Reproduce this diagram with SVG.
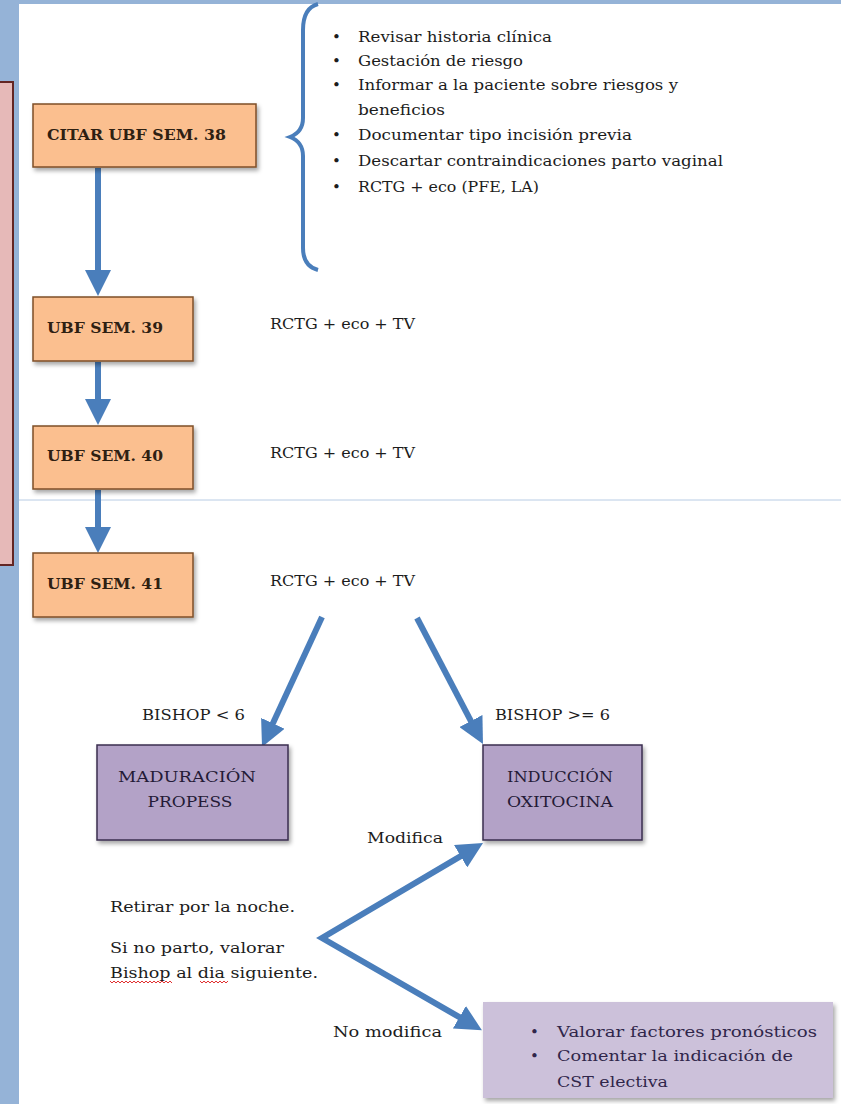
<svg xmlns="http://www.w3.org/2000/svg" width="841" height="1104" viewBox="0 0 841 1104">
<style>
.t{font-family:"DejaVu Serif","Liberation Serif",serif;font-size:15px;fill:#1c1c1c}
.b{font-family:"DejaVu Serif","Liberation Serif",serif;font-size:14.5px;font-weight:bold;fill:#2e2012}
.p{font-family:"DejaVu Serif","Liberation Serif",serif;font-size:15px;fill:#241a36}
.q{font-family:"DejaVu Serif","Liberation Serif",serif;font-size:15px;fill:#30264a}
.orange{fill:#fbbf8f;stroke:#7f4f28;stroke-width:1.5}
.purple{fill:#b3a2c7;stroke:#3b2f4f;stroke-width:1.5}
.conn{fill:none;stroke:#4a7ebb;stroke-width:6}
</style>
<defs>
<marker id="ah" markerUnits="userSpaceOnUse" markerWidth="26" markerHeight="26" viewBox="0 0 26 26" refX="6" refY="13" orient="auto-start-reverse">
<path d="M0,0 L26,13 L0,26 z" fill="#4a7ebb"/>
</marker>
<filter id="sh" x="-10%" y="-10%" width="130%" height="140%">
<feDropShadow dx="2" dy="3" stdDeviation="2" flood-color="#000" flood-opacity="0.35"/>
</filter>
</defs>
<rect x="0" y="0" width="841" height="1104" fill="#ffffff"/>
<rect x="0" y="0" width="841" height="4" fill="#95b3d7"/>
<rect x="0" y="0" width="19" height="1104" fill="#95b3d7"/>
<rect x="-2" y="82" width="15" height="483" fill="#e6b9b8" stroke="#632523" stroke-width="2"/>
<line x1="19" y1="500" x2="841" y2="500" stroke="#b8cce4" stroke-width="1"/>

<g id="connectors">
<line class="conn" x1="98" y1="168" x2="98" y2="276" marker-end="url(#ah)"/>
<line class="conn" x1="98" y1="362" x2="98" y2="405" marker-end="url(#ah)"/>
<line class="conn" x1="98" y1="490" x2="98" y2="533" marker-end="url(#ah)"/>
<line class="conn" stroke-width="5" x1="322" y1="617" x2="270.4" y2="728.8" marker-end="url(#ah)"/>
<line class="conn" stroke-width="5" x1="417" y1="618" x2="473.7" y2="726.3" marker-end="url(#ah)"/>
<path class="conn" stroke-width="5" d="M465.8,853.2 L322,938 L464.6,1020.2" marker-start="url(#ah)" marker-end="url(#ah)"/>
<path d="M318,4 Q303,8 303,30 L303,118 Q303,132 290,137 Q303,142 303,156 L303,248 Q303,266 318,270" fill="none" stroke="#4a7ebb" stroke-width="4"/>
</g>

<g id="citar38">
<rect class="orange" x="33" y="104" width="223" height="63" filter="url(#sh)"/>
<text class="b" x="47" y="140" textLength="179" lengthAdjust="spacingAndGlyphs">CITAR UBF SEM. 38</text>
</g>
<g id="checklist">
<g class="t">
<text x="332" y="42">•</text><text x="358" y="42" textLength="194" lengthAdjust="spacingAndGlyphs">Revisar historia clínica</text>
<text x="332" y="66">•</text><text x="358" y="66" textLength="165" lengthAdjust="spacingAndGlyphs">Gestación de riesgo</text>
<text x="332" y="90">•</text><text x="358" y="90" textLength="320" lengthAdjust="spacingAndGlyphs">Informar a la paciente sobre riesgos y</text>
<text x="358" y="115" textLength="87" lengthAdjust="spacingAndGlyphs">beneficios</text>
<text x="332" y="140">•</text><text x="358" y="140" textLength="274" lengthAdjust="spacingAndGlyphs">Documentar tipo incisión previa</text>
<text x="332" y="166">•</text><text x="358" y="166" textLength="365" lengthAdjust="spacingAndGlyphs">Descartar contraindicaciones parto vaginal</text>
<text x="332" y="192">•</text><text x="358" y="192" textLength="181" lengthAdjust="spacingAndGlyphs">RCTG + eco (PFE, LA)</text>
</g>
</g>

<g id="ubf39">
<rect class="orange" x="33" y="297" width="160" height="64" filter="url(#sh)"/>
<text class="b" x="47" y="333" textLength="116" lengthAdjust="spacingAndGlyphs">UBF SEM. 39</text>
</g>
<text id="rctg39" class="t" x="270" y="329" textLength="145" lengthAdjust="spacingAndGlyphs">RCTG + eco + TV</text>

<g id="ubf40">
<rect class="orange" x="33" y="426" width="160" height="63" filter="url(#sh)"/>
<text class="b" x="47" y="461" textLength="116" lengthAdjust="spacingAndGlyphs">UBF SEM. 40</text>
</g>
<text id="rctg40" class="t" x="270" y="458" textLength="145" lengthAdjust="spacingAndGlyphs">RCTG + eco + TV</text>

<g id="ubf41">
<rect class="orange" x="33" y="553" width="160" height="64" filter="url(#sh)"/>
<text class="b" x="47" y="589" textLength="116" lengthAdjust="spacingAndGlyphs">UBF SEM. 41</text>
</g>
<text id="rctg41" class="t" x="270" y="586" textLength="145" lengthAdjust="spacingAndGlyphs">RCTG + eco + TV</text>

<text id="lbl-bishop-lt" class="t" x="142" y="720" textLength="103" lengthAdjust="spacingAndGlyphs">BISHOP &lt; 6</text>
<text id="lbl-bishop-ge" class="t" x="495" y="720" textLength="115" lengthAdjust="spacingAndGlyphs">BISHOP &gt;= 6</text>

<g id="maduracion">
<rect class="purple" x="97" y="745" width="191" height="95" filter="url(#sh)"/>
<text class="p" x="187" y="782" text-anchor="middle" textLength="138" lengthAdjust="spacingAndGlyphs">MADURACIÓN</text>
<text class="p" x="190" y="807" text-anchor="middle" textLength="85" lengthAdjust="spacingAndGlyphs">PROPESS</text>
</g>

<g id="induccion">
<rect class="purple" x="483" y="745" width="159" height="95" filter="url(#sh)"/>
<text class="p" x="560" y="782" text-anchor="middle" textLength="106" lengthAdjust="spacingAndGlyphs">INDUCCIÓN</text>
<text class="p" x="560" y="807" text-anchor="middle" textLength="106" lengthAdjust="spacingAndGlyphs">OXITOCINA</text>
</g>

<text id="lbl-modifica" class="t" x="367" y="843" textLength="76" lengthAdjust="spacingAndGlyphs">Modifica</text>

<g id="retirar">
<text class="t" x="110" y="912" textLength="185" lengthAdjust="spacingAndGlyphs">Retirar por la noche.</text>
<text class="t" x="110" y="953" textLength="174" lengthAdjust="spacingAndGlyphs">Si no parto, valorar</text>
<text class="t" x="110" y="978" textLength="208" lengthAdjust="spacingAndGlyphs">Bishop al dia siguiente.</text>
<path d="M110,981 l2,2 l2,-2 l2,2 l2,-2 l2,2 l2,-2 l2,2 l2,-2 l2,2 l2,-2 l2,2 l2,-2 l2,2 l2,-2 l2,2 l2,-2 l2,2 l2,-2 l2,2 l2,-2 l2,2 l2,-2 l2,2 l2,-2 l2,2 l2,-2 l2,2 l2,-2 l2,2 l2,-2 l2,2 M200,981 l2,2 l2,-2 l2,2 l2,-2 l2,2 l2,-2 l2,2 l2,-2 l2,2 l2,-2 l2,2 l2,-2 l2,2 l2,-2" fill="none" stroke="#e03030" stroke-width="1"/>
</g>

<text id="lbl-nomodifica" class="t" x="333" y="1037" textLength="109" lengthAdjust="spacingAndGlyphs">No modifica</text>

<g id="valorar">
<rect x="483" y="1002" width="350" height="96" fill="#ccc1da" filter="url(#sh)"/>
<g class="q">
<text x="530" y="1037">•</text><text x="557" y="1037" textLength="260" lengthAdjust="spacingAndGlyphs">Valorar factores pronósticos</text>
<text x="530" y="1061">•</text><text x="557" y="1061" textLength="236" lengthAdjust="spacingAndGlyphs">Comentar la indicación de</text>
<text x="557" y="1087" textLength="111" lengthAdjust="spacingAndGlyphs">CST electiva</text>
</g>
</g>
</svg>
